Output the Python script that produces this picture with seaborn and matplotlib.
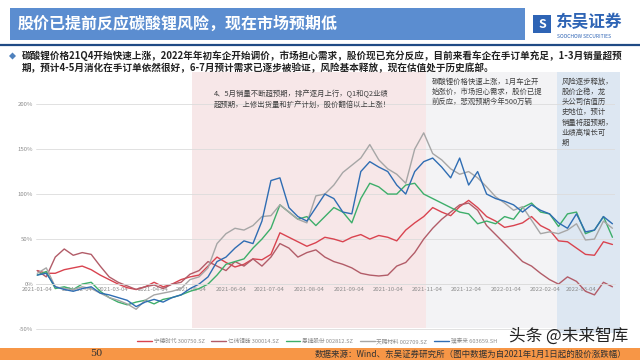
import pandas as pd
import matplotlib.pyplot as plt
from matplotlib.patches import Rectangle, Polygon
import seaborn as sns

# weekly samples (cumulative % change since 2021-01-01)
dates = [
    "2021-01-04", "2021-01-11", "2021-01-18", "2021-01-25", "2021-02-01", "2021-02-08",
    "2021-02-15", "2021-02-22", "2021-03-01", "2021-03-08", "2021-03-15", "2021-03-22",
    "2021-03-29", "2021-04-05", "2021-04-12", "2021-04-19", "2021-04-26", "2021-05-03",
    "2021-05-10", "2021-05-17", "2021-05-24", "2021-05-31", "2021-06-07", "2021-06-14",
    "2021-06-21", "2021-06-28", "2021-07-05", "2021-07-12", "2021-07-19", "2021-07-26",
    "2021-08-02", "2021-08-09", "2021-08-16", "2021-08-23", "2021-08-30", "2021-09-06",
    "2021-09-13", "2021-09-20", "2021-09-27", "2021-10-04", "2021-10-11", "2021-10-18",
    "2021-10-25", "2021-11-01", "2021-11-08", "2021-11-15", "2021-11-22", "2021-11-29",
    "2021-12-06", "2021-12-13", "2021-12-20", "2021-12-27", "2022-01-03", "2022-01-10",
    "2022-01-17", "2022-01-24", "2022-01-31", "2022-02-07", "2022-02-14", "2022-02-21",
    "2022-02-28", "2022-03-07", "2022-03-14", "2022-03-21", "2022-03-28",
]

catl = [15, 12, 12, 16, 18, 20, 16, 10, 5, 0, -4, -6, -3, 2, -3, 0, 5, 8,
        10, 20, 30, 24, 19, 22, 28, 27, 33, 57, 52, 47, 42, 46, 52, 50, 47, 52,
        55, 50, 54, 52, 48, 60, 68, 75, 85, 80, 76, 86, 93, 85, 75, 70, 63, 65,
        68, 75, 65, 60, 48, 47, 40, 33, 32, 47, 44]
eve = [15, 8, 30, 39, 32, 35, 33, 20, 8, 2, -2, -6, -3, -1, -5, 0, 2, 11,
       15, 25, 20, 15, 25, 20, 28, 20, 30, 45, 40, 30, 35, 38, 30, 25, 22, 18,
       12, 10, 9, 10, 20, 24, 35, 50, 62, 72, 80, 88, 90, 82, 65, 55, 45, 35,
       25, 20, 12, 5, 0, 8, 3, -8, -12, 2, -3]
semcorp = [10, 14, -5, -3, -6, 0, 2, -8, -15, -20, -23, -20, -18, -22, -17, -15, -12, -8,
           -5, 0, 10, 22, 25, 28, 40, 50, 62, 88, 80, 72, 75, 65, 75, 85, 80, 68,
           95, 112, 108, 100, 100, 110, 112, 100, 95, 90, 85, 80, 78, 67, 70, 67, 75, 72,
           85, 90, 80, 78, 64, 78, 80, 56, 60, 75, 52]
tinci = [12, 18, -3, -5, -6, -3, -5, -10, -15, -18, -22, -28, -18, -12, -10, -8, -5, 5,
         8, 18, 45, 56, 62, 60, 65, 75, 76, 88, 80, 72, 68, 98, 100, 110, 124, 132,
         140, 155, 138, 128, 122, 112, 150, 168, 145, 138, 128, 122, 125, 118, 108, 97, 90, 82,
         86, 71, 56, 58, 56, 60, 67, 49, 50, 70, 62]
putailai = [10, 12, -3, -6, -8, -5, -3, -10, -12, -15, -18, -25, -20, -17, -20, -15, -12, -5,
            0, 8, 25, 30, 40, 48, 45, 70, 115, 118, 85, 75, 70, 85, 100, 95, 80, 78,
            125, 136, 130, 125, 110, 100, 125, 136, 140, 130, 118, 140, 110, 125, 100, 95, 92, 88,
            80, 88, 82, 78, 68, 62, 78, 58, 60, 75, 67]

names = ["宁德时代 300750.SZ", "亿纬锂能 300014.SZ", "恩捷股份 002812.SZ",
         "天赐材料 002709.SZ", "璞泰来 603659.SH"]
colors = ["#D9434F", "#B25C68", "#3DAE6A", "#A6A6A6", "#2F6DB3"]

tick_dates = ["2021-01-04", "2021-02-04", "2021-03-04", "2021-04-04", "2021-05-04",
              "2021-06-04", "2021-07-04", "2021-08-04", "2021-09-04", "2021-10-04",
              "2021-11-04", "2021-12-04", "2022-01-04", "2022-02-04", "2022-03-04"]
y_ticks = [-50, 0, 50, 100, 150, 200]

df = pd.DataFrame({"date": pd.to_datetime(dates)})
for n, v in zip(names, [catl, eve, semcorp, tinci, putailai]):
    df[n] = v
long = df.melt(id_vars="date", var_name="stock", value_name="pct")

sns.set_style("white")
plt.rcParams["font.family"] = ["Noto Sans CJK SC", "DejaVu Sans"]


def fx(x):
    return x / 640


def fy(y):
    return 1 - y / 360


fig = plt.figure(figsize=(6.4, 3.6), dpi=100)

# shaded phases behind the chart
for x0, x1, y0, y1, c in [(192, 426, 72, 328, "#F7E7E8"),
                          (426, 557, 72, 328, "#F3F3F5"),
                          (557, 620, 72, 333, "#DDE7F2")]:
    fig.add_artist(Rectangle((fx(x0), fy(y1)), fx(x1 - x0), (y1 - y0) / 360,
                             transform=fig.transFigure, color=c, zorder=-2, lw=0))

ax = fig.add_axes([fx(36), fy(330), fx(615 - 36), (330 - 80) / 360])
ax.set_facecolor("none")
sns.lineplot(data=long, x="date", y="pct", hue="stock", palette=colors,
             linewidth=1.0, ax=ax, legend=True)

ax.set_ylim(-51, 226.7)
ax.set_xlim(pd.Timestamp("2021-01-03"), pd.Timestamp("2022-03-30"))
ax.set_yticks(y_ticks)
ax.set_yticklabels([f"{v}%" for v in y_ticks])
ax.set_xticks(pd.to_datetime(tick_dates))
ax.set_xticklabels(tick_dates)
ax.tick_params(axis="both", length=0, pad=2, labelsize=4.3, labelcolor="#8C8C8C")
ax.grid(axis="y", color="#DCDCDC", lw=0.6)
ax.grid(axis="x", visible=False)
for s in ["top", "right", "left"]:
    ax.spines[s].set_visible(False)
ax.spines["bottom"].set_position(("data", 0))
ax.spines["bottom"].set_color("#DCDCDC")
ax.spines["bottom"].set_linewidth(0.6)
ax.set_xlabel("")
ax.set_ylabel("")

handles, labels = ax.get_legend_handles_labels()
ax.get_legend().remove()
fig.legend(handles, labels, loc="center", bbox_to_anchor=(fx(317), fy(341)), ncol=5,
           frameon=False, fontsize=4.1, handlelength=2.6, handletextpad=0.3,
           columnspacing=1.2, labelcolor="#8C8C8C")

# phase notes
note_kw = dict(fontsize=5.3, color="#404040", va="top", ha="left", linespacing=1.35)
fig.text(fx(214), fy(90), "4、5月销量不断超预期，排产逐月上行，Q1和Q2业绩\n超预期，上修出货量和扩产计划，股价翻倍以上上涨！", **note_kw)
fig.text(fx(432), fy(78), "碳酸锂价格快速上涨，1月车企开\n始涨价，市场担心需求，股价已提\n前反应，悲观预期今年500万辆", **note_kw)
fig.text(fx(562), fy(78), "风险逐步释放，\n股价企稳，龙\n头公司估值历\n史地位，预计\n销量将超预期，\n业绩高增长可\n期", **note_kw)

# header
fig.add_artist(Rectangle((fx(10), fy(40)), fx(515), 32 / 360, transform=fig.transFigure,
                         color="#5B8DD0", lw=0))
fig.text(fx(18), fy(24), "股价已提前反应碳酸锂风险，现在市场预期低", fontsize=11.5,
         color="white", fontweight="bold", va="center")
fig.add_artist(Rectangle((fx(533), fy(33)), fx(18), 18 / 360, transform=fig.transFigure,
                         color="#2E64B5", lw=0))
fig.text(fx(542), fy(24), "S", fontsize=9, color="white", fontweight="bold",
         style="italic", ha="center", va="center")
fig.text(fx(555), fy(22), "东吴证券", fontsize=12, color="#2E64B5", fontweight="bold",
         va="center")
fig.text(fx(557), fy(37), "SOOCHOW SECURITIES", fontsize=3.6, color="#2E64B5", va="center")
fig.add_artist(plt.Line2D([0, 1], [fy(45), fy(45)], transform=fig.transFigure,
                          color="#1F4A85", lw=1.6))

# bullet
fig.add_artist(Polygon([(fx(9), fy(56)), (fx(12.5), fy(52.5)), (fx(16), fy(56)),
                        (fx(12.5), fy(59.5))], closed=True, transform=fig.transFigure,
                       color="#4F81BD", lw=0))
fig.text(fx(22), fy(56), "碳酸锂价格21Q4开始快速上涨，2022年年初车企开始调价，市场担心需求，股价现已充分反应，目前来看车企在手订单充足，1-3月销量超预",
         fontsize=6.9, fontweight="bold", color="#222222", va="center")
fig.text(fx(22), fy(68), "期，预计4-5月消化在手订单依然很好，6-7月预计需求已逐步被验证，风险基本释放，现在估值处于历史底部。",
         fontsize=6.9, fontweight="bold", color="#222222", va="center")

# footer
fig.add_artist(Rectangle((0, 0), 1, 12 / 360, transform=fig.transFigure,
                         color="#F79646", lw=0))
fig.text(fx(90), fy(354), "50", fontsize=7, color="#333333", family="DejaVu Serif",
         va="center")
fig.text(fx(626), fy(354), "数据来源：Wind、东吴证券研究所（图中数据为自2021年1月1日起的股价涨跌幅）",
         fontsize=6.1, color="#333333", ha="right", va="center")
fig.text(fx(628), fy(336), "头条 @未来智库", fontsize=12, color="#222222", ha="right",
         va="center")

fig.savefig("out.png", dpi=100)
